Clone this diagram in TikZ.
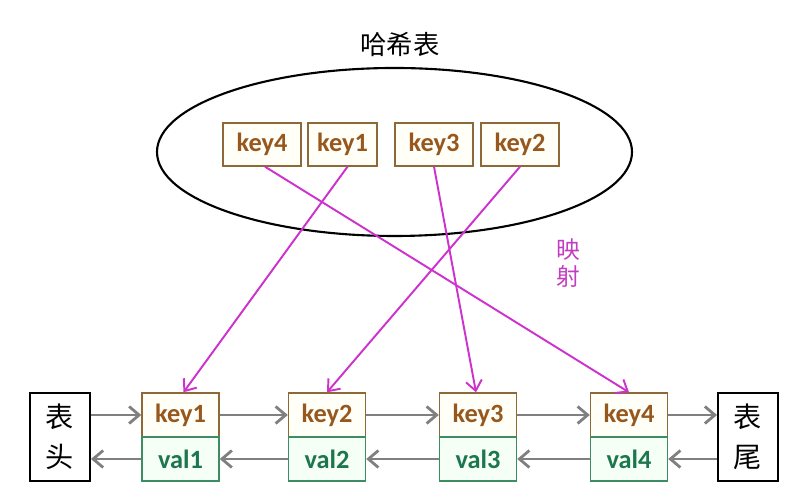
\documentclass[tikz,border=0pt]{standalone}
\usepackage{fontspec}
\setmainfont{Carlito}
\newfontfamily\cjk{Noto Sans CJK SC}
\usepackage{tikz}
\usetikzlibrary{arrows.meta,shapes,positioning}
\definecolor{keybrown}{RGB}{150,88,30}
\definecolor{keyline}{RGB}{140,105,55}
\definecolor{valgreen}{RGB}{30,118,78}
\definecolor{valline}{RGB}{60,140,100}
\definecolor{linkgray}{RGB}{128,128,128}
\definecolor{mapmag}{RGB}{205,50,205}

\begin{document}
\begin{tikzpicture}
	\useasboundingbox (0,0) rectangle (16.12,10);
	\tikzstyle{keybox} = [draw=keyline,line width=0.8pt,fill=white!97!yellow,rectangle,minimum width=1.56cm,minimum height=0.86cm,text=keybrown,font=\bfseries\fontsize{15}{17}\selectfont]
	\tikzstyle{valbox} = [draw=valline,line width=0.8pt,fill=white!96!green,rectangle,minimum width=1.54cm,minimum height=0.88cm,text=valgreen,font=\bfseries\fontsize{15}{17}\selectfont]
	\tikzstyle{endbox} = [draw=black,line width=1.1pt,rectangle,minimum width=1.2cm,minimum height=1.76cm,align=center,font=\cjk\fontsize{16}{23}\selectfont]
	\tikzstyle{link} = [->,line width=1.6pt,color=linkgray,>={Straight Barb[length=2mm,width=3.4mm]}]
	\tikzstyle{map} = [->,line width=1.1pt,color=mapmag,>={Straight Barb[length=2mm,width=3.2mm]}]
	
	% hash table
	\node[ellipse,draw=black,line width=1.2pt,minimum width=9.5cm,minimum height=3.36cm] (hash) at (7.89,6.96) {};
	\node[font=\cjk\fontsize{15}{17}\selectfont] (title) at (8.0,9.1) {哈希表};
	\node[keybox] (h4) at (5.24,7.11) {key4};
	\node[keybox,minimum width=1.38cm] (h1) at (6.85,7.11) {key1};
	\node[keybox] (h3) at (8.68,7.11) {key3};
	\node[keybox] (h2) at (10.40,7.11) {key2};
	
	% list
	\node[endbox] (head) at (1.2,1.26) {表\\头};
	\node[keybox,minimum width=1.54cm,minimum height=0.88cm] (k1) at (3.61,1.70) {key1};
	\node[valbox] (v1) at (3.61,0.82) {val1};
	\node[keybox,minimum width=1.54cm,minimum height=0.88cm] (k2) at (6.54,1.70) {key2};
	\node[valbox] (v2) at (6.54,0.82) {val2};
	\node[keybox,minimum width=1.54cm,minimum height=0.88cm] (k3) at (9.56,1.70) {key3};
	\node[valbox] (v3) at (9.56,0.82) {val3};
	\node[keybox,minimum width=1.54cm,minimum height=0.88cm] (k4) at (12.58,1.70) {key4};
	\node[valbox] (v4) at (12.58,0.82) {val4};
	\node[endbox] (tail) at (14.96,1.26) {表\\尾};
	
	% next links
	\draw[link] (head.east |- k1.west) -- (k1.west);
	\draw[link] (k1.east) -- (k2.west);
	\draw[link] (k2.east) -- (k3.west);
	\draw[link] (k3.east) -- (k4.west);
	\draw[link] (k4.east) -- (tail.west |- k4.east);
	% prev links
	\draw[link] (tail.west |- v4.east) -- (v4.east);
	\draw[link] (v4.west) -- (v3.east);
	\draw[link] (v3.west) -- (v2.east);
	\draw[link] (v2.west) -- (v1.east);
	\draw[link] (v1.west) -- (head.east |- v1.west);
	
	% mapping
	\draw[map] ([xshift=0.06cm]h4.south) -- (k4.north);
	\draw[map] ([xshift=0.1cm]h1.south) -- ([xshift=0.06cm]k1.north);
	\draw[map] (h3.south) -- ([xshift=-0.04cm]k3.north);
	\draw[map] (h2.south) -- (k2.north);
	\node[text=mapmag!85!gray,font=\cjk\fontsize{13.5}{15.5}\selectfont,align=center] (maplabel) at (11.36,4.74) {映\\射};
\end{tikzpicture}
\end{document}
